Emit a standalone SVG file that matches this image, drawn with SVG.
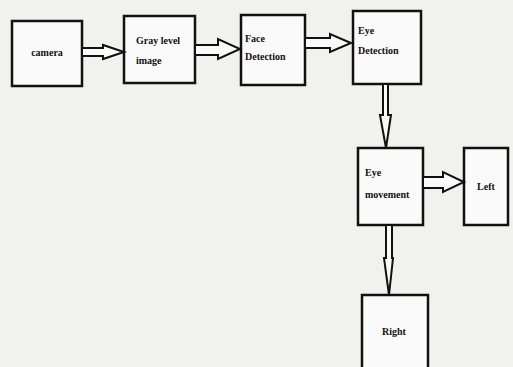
<svg xmlns="http://www.w3.org/2000/svg" width="513" height="367" viewBox="0 0 513 367">
<style>
.box{fill:#fafafa;stroke:#111;stroke-width:2.5}
.arr{fill:#fafafa;stroke:#111;stroke-width:2;stroke-linejoin:miter}
text{font-family:"Liberation Serif","DejaVu Serif",serif;font-weight:bold;font-size:10px;fill:#111}
</style>
<rect width="513" height="367" fill="#f1f1ef"/>
<g id="camera"><rect class="box" x="12" y="21" width="70" height="65"/><text x="47" y="56" text-anchor="middle">camera</text></g>
<g id="gray"><rect class="box" x="124" y="16" width="71" height="67"/><text x="136" y="44">Gray level</text><text x="136" y="64">image</text></g>
<g id="face"><rect class="box" x="241" y="15" width="64" height="70"/><text x="245" y="42">Face</text><text x="245" y="60">Detection</text></g>
<g id="eyedet"><rect class="box" x="353" y="11" width="68" height="73"/><text x="358" y="34">Eye</text><text x="358" y="54">Detection</text></g>
<g id="eyemov"><rect class="box" x="358" y="148" width="65" height="77"/><text x="365" y="176">Eye</text><text x="365" y="198">movement</text></g>
<g id="left"><rect class="box" x="464" y="148" width="44" height="77"/><text x="486" y="190" text-anchor="middle">Left</text></g>
<g id="right"><rect class="box" x="362" y="295" width="66" height="80"/><text x="394" y="335" text-anchor="middle">Right</text></g>
<g id="connectors">
<polygon class="arr" points="82,48 103,48 103,45 124,52 103,59 103,56 82,56"/>
<polygon class="arr" points="195,45 218,45 218,39 240,49 218,59 218,55 195,55"/>
<polygon class="arr" points="305,38 330,38 330,34 351,43 330,52 330,48 305,48"/>
<polygon class="arr" points="423,177 443,177 443,172 464,182 443,192 443,188 423,188"/>
<polygon class="arr" points="383,84 383,115 380,115 386,148 391,115 388,115 388,84"/>
<polygon class="arr" points="386,225 386,258 384,258 389,295 393,258 392,258 392,225"/>
</g>
</svg>
